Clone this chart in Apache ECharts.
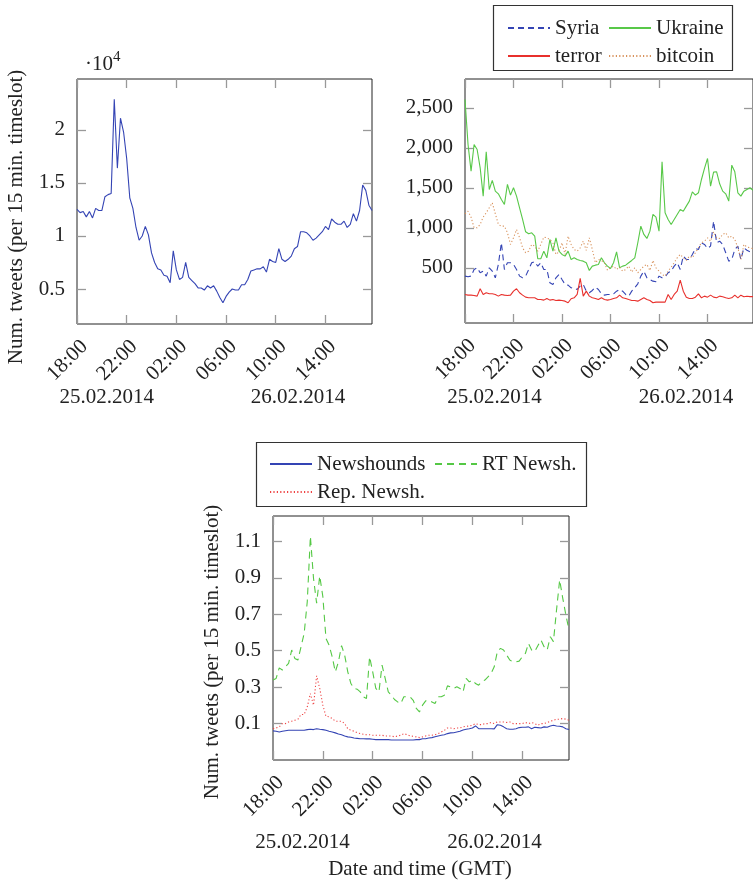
<!DOCTYPE html>
<html><head><meta charset="utf-8">
<script src="https://cdn.jsdelivr.net/npm/echarts@6/dist/echarts.min.js"></script>
<style>html,body{margin:0;padding:0;background:#fff}#c{width:753px;height:882px}</style>
</head><body><div id="c"></div>
<script>
// time slots (15 min) from 18:00 25.02.2014 to 17:45 26.02.2014
const slots = [];
for (let i = 0; i < 96; i++) {
  const h = (18 + Math.floor(i / 4)) % 24, m = (i % 4) * 15;
  slots.push(String(h).padStart(2, '0') + ':' + String(m).padStart(2, '0'));
}
// Panel 1: total tweets (x10^4)
const totalTweets = [
  1.25,1.22,1.23,1.18,1.23,1.17,1.26,1.24,1.24,1.37,1.39,1.40,
  2.29,1.64,2.11,1.98,1.73,1.36,1.26,1.08,0.96,1.00,1.09,1.01,
  0.84,0.75,0.69,0.68,0.63,0.62,0.56,0.86,0.68,0.59,0.61,0.75,
  0.61,0.58,0.55,0.51,0.51,0.49,0.53,0.51,0.53,0.48,0.42,0.37,
  0.43,0.47,0.50,0.49,0.49,0.54,0.54,0.59,0.67,0.68,0.69,0.69,
  0.71,0.66,0.78,0.76,0.75,0.88,0.78,0.76,0.78,0.81,0.88,0.90,
  1.04,1.04,1.03,1.00,0.96,0.98,1.01,1.04,1.09,1.06,1.16,1.13,
  1.11,1.11,1.14,1.08,1.11,1.21,1.14,1.24,1.48,1.43,1.29,1.24];
// Panel 2: topics
const syria = [
  396,388,396,479,500,438,458,396,500,458,375,542,
  813,479,563,563,542,479,396,375,396,479,563,575,
  521,563,479,479,313,292,375,417,354,292,283,250,
  242,229,271,292,208,188,217,258,229,175,158,167,
  167,175,208,229,208,167,146,208,250,300,396,458,
  375,354,333,325,396,375,383,438,458,521,563,479,
  646,604,604,667,742,729,813,792,742,771,1083,813,
  833,792,688,583,604,729,771,604,750,720,700,700];
const ukraine = [
  2604,2042,1708,2042,1979,1750,1396,1950,1479,1592,1458,1425,
  1354,1292,1542,1408,1500,1396,1250,1104,950,925,938,896,
  613,613,708,625,854,708,875,708,667,646,708,604,
  625,604,592,583,563,467,521,533,542,625,563,521,
  492,563,700,500,521,533,563,592,625,813,1021,917,
  867,958,1167,1133,958,1825,1188,1104,1042,1104,1167,1229,
  1208,1271,1333,1450,1408,1438,1604,1742,1867,1521,1696,1700,
  1550,1458,1425,1333,1783,1700,1438,1396,1458,1480,1500,1470];
const terror = [
  167,158,158,154,146,238,167,188,175,175,167,146,
  167,158,154,158,208,238,188,158,133,125,125,125,
  104,104,96,117,96,104,92,96,92,83,63,113,
  125,167,367,146,208,146,125,117,104,125,104,96,
  104,117,125,158,125,117,104,92,92,83,104,125,
  104,92,63,71,71,71,71,167,104,167,208,346,
  208,133,117,117,133,175,125,146,133,158,133,125,
  146,138,125,117,125,158,125,158,138,145,140,140];
const bitcoin = [
  1175,1208,1133,1000,1000,1042,1133,1188,1250,1313,1175,1042,
  1021,1021,938,792,875,979,875,750,688,708,792,771,
  708,792,883,875,854,813,667,700,813,667,896,792,
  729,708,750,833,717,875,729,563,604,592,563,470,
  500,521,479,508,458,479,521,446,500,438,479,521,
  542,467,592,500,458,417,396,458,508,563,625,667,
  625,592,646,625,688,750,813,833,875,833,950,875,
  867,917,938,875,896,854,750,604,792,760,750,740];
// Panel 3: user groups
const newshounds = [
  0.060,0.058,0.054,0.058,0.061,0.063,0.063,0.063,0.063,0.063,0.063,0.067,
  0.069,0.067,0.072,0.069,0.067,0.063,0.058,0.054,0.049,0.043,0.039,0.032,
  0.027,0.025,0.021,0.019,0.017,0.017,0.016,0.016,0.014,0.012,0.012,0.012,
  0.012,0.012,0.010,0.010,0.010,0.010,0.010,0.010,0.010,0.010,0.012,0.012,
  0.017,0.017,0.021,0.023,0.028,0.032,0.036,0.039,0.045,0.049,0.050,0.054,
  0.058,0.065,0.069,0.072,0.076,0.087,0.072,0.072,0.072,0.072,0.072,0.071,
  0.094,0.091,0.082,0.072,0.069,0.069,0.072,0.078,0.080,0.080,0.082,0.072,
  0.080,0.078,0.076,0.082,0.080,0.087,0.091,0.087,0.085,0.082,0.072,0.067];
const rtNewsh = [
  0.339,0.348,0.406,0.394,0.412,0.430,0.504,0.458,0.449,0.522,0.595,0.770,
  1.128,0.898,0.761,0.911,0.797,0.568,0.531,0.467,0.384,0.439,0.528,0.476,
  0.384,0.320,0.293,0.289,0.274,0.247,0.238,0.467,0.384,0.293,0.274,0.421,
  0.348,0.274,0.256,0.232,0.219,0.210,0.247,0.247,0.247,0.228,0.183,0.164,
  0.201,0.225,0.228,0.219,0.210,0.247,0.247,0.256,0.307,0.302,0.293,0.302,
  0.293,0.274,0.348,0.329,0.339,0.320,0.311,0.329,0.339,0.357,0.375,0.412,
  0.495,0.513,0.504,0.476,0.449,0.439,0.439,0.443,0.467,0.485,0.540,0.504,
  0.495,0.528,0.559,0.522,0.504,0.577,0.550,0.724,0.889,0.788,0.696,0.614];
const repNewsh = [
  0.072,0.076,0.082,0.100,0.100,0.109,0.113,0.118,0.124,0.150,0.150,0.192,
  0.265,0.201,0.362,0.293,0.201,0.140,0.137,0.128,0.113,0.113,0.113,0.100,
  0.072,0.063,0.058,0.050,0.045,0.041,0.039,0.039,0.036,0.036,0.036,0.036,
  0.032,0.032,0.032,0.027,0.032,0.036,0.045,0.039,0.032,0.030,0.027,0.023,
  0.027,0.032,0.036,0.036,0.039,0.045,0.054,0.063,0.076,0.076,0.072,0.076,
  0.076,0.082,0.085,0.087,0.091,0.100,0.094,0.094,0.100,0.100,0.106,0.100,
  0.109,0.109,0.109,0.106,0.109,0.100,0.100,0.100,0.100,0.106,0.100,0.106,
  0.100,0.091,0.100,0.100,0.106,0.113,0.118,0.124,0.124,0.128,0.124,0.118];
// tick labels
const yTicks1 = [0.5, 1, 1.5, 2];
const yTicks2 = [500, 1000, 1500, 2000, 2500];
const yTicks3 = [0.1, 0.3, 0.5, 0.7, 0.9, 1.1];
const dateLabels = ['25.02.2014', '26.02.2014'];
const yTitle = 'Num. tweets (per 15 min. timeslot)';
const xTitle = 'Date and time (GMT)';

const FONT = 'Liberation Serif';
const FS = 21;
const TXT = '#222';
const tickStyle = { color: '#999', width: 1.3 };

const grids = [
  { left: 77, top: 79, width: 295, height: 245 },
  { left: 465, top: 79, width: 295, height: 244 },
  { left: 273, top: 516, width: 296, height: 244 }
];
const yRanges = [[0.17, 2.48], [-190, 2860], [-0.1, 1.24]];
const yTickSets = [yTicks1, yTicks2, yTicks3];
const yFmt = [v => String(v), v => Number(v).toLocaleString('en-US'), v => Number(v).toFixed(1)];

const xAxis = [], yAxis = [];
grids.forEach((g, k) => {
  xAxis.push({
    gridIndex: k, type: 'category', data: slots, boundaryGap: false, position: 'bottom',
    axisLine: { show: false, onZero: false },
    axisTick: { show: true, inside: true, interval: 15, length: 9, lineStyle: tickStyle },
    axisLabel: { interval: 15, rotate: 45, margin: 12, verticalAlign: 'top', fontFamily: FONT, fontSize: FS, color: TXT },
    splitLine: { show: false }
  });
  xAxis.push({
    gridIndex: k, type: 'category', data: slots, boundaryGap: false, position: 'top',
    axisLine: { show: false, onZero: false },
    axisTick: { show: true, inside: true, interval: 15, length: 9, lineStyle: tickStyle },
    axisLabel: { show: false }, splitLine: { show: false }
  });
  yAxis.push({
    gridIndex: k, type: 'value', position: 'left', min: yRanges[k][0], max: yRanges[k][1],
    axisLine: { show: false, onZero: false },
    axisTick: { show: true, inside: true, length: 9, lineStyle: tickStyle, customValues: yTickSets[k] },
    axisLabel: { margin: 12, fontFamily: FONT, fontSize: FS, color: TXT, customValues: yTickSets[k], formatter: yFmt[k] },
    splitLine: { show: false }
  });
  yAxis.push({
    gridIndex: k, type: 'value', position: 'right', min: yRanges[k][0], max: yRanges[k][1],
    axisLine: { show: false, onZero: false },
    axisTick: { show: true, inside: true, length: 9, lineStyle: tickStyle, customValues: yTickSets[k] },
    axisLabel: { show: false }, splitLine: { show: false }
  });
});

function ser(name, data, k, color, type, width) {
  return {
    name, type: 'line', data, xAxisIndex: 2 * k, yAxisIndex: 2 * k,
    symbol: 'none', showSymbol: false, clip: true,
    lineStyle: { color, width: width || 1.1, type: type || 'solid' },
    itemStyle: { color }
  };
}
const C = {
  blue: '#3444b4', green: '#58c848', red: '#e8302c', orange: '#d8925c',
  rtGreen: '#55c845', repRed: '#ee4444'
};
const series = [
  ser('Total', totalTweets, 0, C.blue),
  ser('Syria', syria, 1, C.blue, [6, 4]),
  ser('Ukraine', ukraine, 1, C.green),
  ser('terror', terror, 1, C.red),
  ser('bitcoin', bitcoin, 1, C.orange, [1.2, 2.2]),
  ser('Newshounds', newshounds, 2, C.blue),
  ser('RT Newsh.', rtNewsh, 2, C.rtGreen, [7, 5]),
  ser('Rep. Newsh.', repNewsh, 2, C.repRed, [1.2, 2.2])
];

function leg(name, left, cy) {
  return {
    data: [name], left, top: cy - 12, orient: 'horizontal',
    itemWidth: 42, itemHeight: 14, itemGap: 0,
    itemStyle: { opacity: 0 },
    textStyle: { fontFamily: FONT, fontSize: FS, color: TXT, lineHeight: 24 },
    selectedMode: false
  };
}
const legend = [
  leg('Syria', 502, 23), leg('Ukraine', 603, 23),
  leg('terror', 502, 51), leg('bitcoin', 603, 51),
  leg('Newshounds', 264, 459), leg('RT Newsh.', 429, 459),
  leg('Rep. Newsh.', 264, 487)
];

function txt(text, x, y, opt) {
  opt = opt || {};
  return {
    type: 'text', x, y, rotation: opt.rot || 0, silent: true, z: 100,
    style: {
      text, fontFamily: FONT, fontSize: opt.fs || FS, fill: TXT,
      align: opt.align || 'center', verticalAlign: 'middle',
      textAlign: opt.align || 'center', textVerticalAlign: 'middle'
    }
  };
}
const graphic = [
  { type: 'rect', shape: { x: 493.5, y: 5.5, width: 239, height: 65 }, style: { fill: '#fff', stroke: '#333', lineWidth: 1.2 }, z: 0 },
  { type: 'rect', shape: { x: 256.5, y: 442.5, width: 330, height: 64 }, style: { fill: '#fff', stroke: '#333', lineWidth: 1.2 }, z: 0 },
  txt('\u00b710', 85, 64, { align: 'left' }),
  txt('4', 113, 57, { align: 'left', fs: 15 }),
  txt(yTitle, 16, 217, { rot: Math.PI / 2 }),
  txt(yTitle, 212, 652, { rot: Math.PI / 2 }),
  txt(dateLabels[0], 106.7, 397), txt(dateLabels[1], 298, 397),
  txt(dateLabels[0], 494.5, 397), txt(dateLabels[1], 686, 397),
  txt(dateLabels[0], 302.5, 842), txt(dateLabels[1], 494.5, 842),
  txt(xTitle, 420, 869)
];

const chart = echarts.init(document.getElementById('c'), null, { renderer: 'canvas' });
chart.setOption({
  animation: false,
  backgroundColor: '#fff',
  grid: grids.map(g => Object.assign({ show: true, borderColor: '#222', borderWidth: 1, backgroundColor: 'transparent', containLabel: false }, g)),
  xAxis, yAxis, series, legend, graphic
});
</script>
</body></html>
